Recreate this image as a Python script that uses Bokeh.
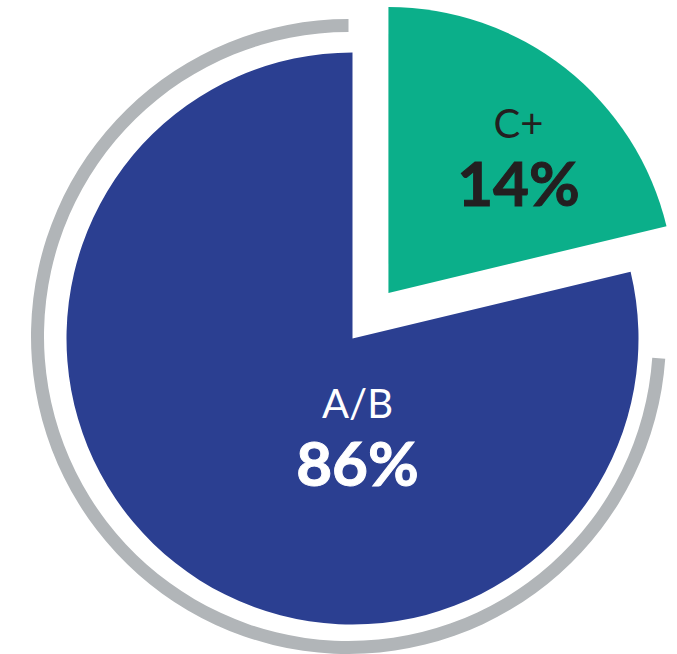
import math
from bokeh.plotting import figure
from bokeh.models import Range1d
from bokeh.embed import file_html
from bokeh.resources import INLINE
from bokeh.core.properties import value

# ---- data ----
categories = ["A/B", "C+"]
percent_labels = [86, 14]
# angular share of each slice as it is drawn in the reference picture
drawn_share = [78.75, 21.25]
slice_colors = ["#2B3F91", "#0BAF8A"]
text_colors = ["#FFFFFF", "#231F20"]

# ---- layout / style constants ----
W, H = 677, 654
R = 286            # pie radius (px)
EXPLODE = 58       # offset of the small slice
RING_R = 311       # gray ring centre-line radius
RING_W = 13
START_DEG = 90.0

p = figure(width=W, height=H, output_backend="svg", toolbar_location=None,
           x_range=Range1d(-352, W - 352), y_range=Range1d(-(H - 338), 338),
           min_border=0, outline_line_color=None, background_fill_color="white")
p.axis.visible = False
p.grid.visible = False

# slice angles
starts, ends = [], []
a = START_DEG
for s in drawn_share:
    starts.append(a)
    a += s * 3.6
    ends.append(a)

# gray ring around the large slice
ring_start = starts[0]
ring_end = ends[0] - 17.5
p.annular_wedge(x=-4, y=2, inner_radius=RING_R - RING_W / 2, outer_radius=RING_R + RING_W / 2,
                start_angle=math.radians(ring_start), end_angle=math.radians(ring_end),
                direction="anticlock", fill_color="#B1B5B8", line_color=None)

# slices
for i, cat in enumerate(categories):
    cx, cy = 0.0, 0.0
    if i == 1:
        mid = math.radians((starts[i] + ends[i]) / 2)
        cx, cy = EXPLODE * math.cos(mid), EXPLODE * math.sin(mid)
    p.wedge(x=cx, y=cy, radius=R, start_angle=math.radians(starts[i]),
            end_angle=math.radians(ends[i]), direction="anticlock",
            fill_color=slice_colors[i], line_color=None)

# labels
label_pos = [(5, -89), (166, 191)]
for i, cat in enumerate(categories):
    lx, ly = label_pos[i]
    p.text(x=[lx], y=[ly], text=[cat], text_font=value("Lato"), text_font_size="40px",
           text_color=text_colors[i], text_align="center", text_baseline="alphabetic",
           y_offset=-25)
    p.text(x=[lx], y=[ly], text=[f"{percent_labels[i]}%"], text_font=value("Lato"),
           text_font_size="62px", text_font_style="bold", text_color=text_colors[i],
           text_outline_color=text_colors[i],
           text_align="center", text_baseline="alphabetic", y_offset=34)

open("out.html", "w").write(file_html(p, INLINE))
